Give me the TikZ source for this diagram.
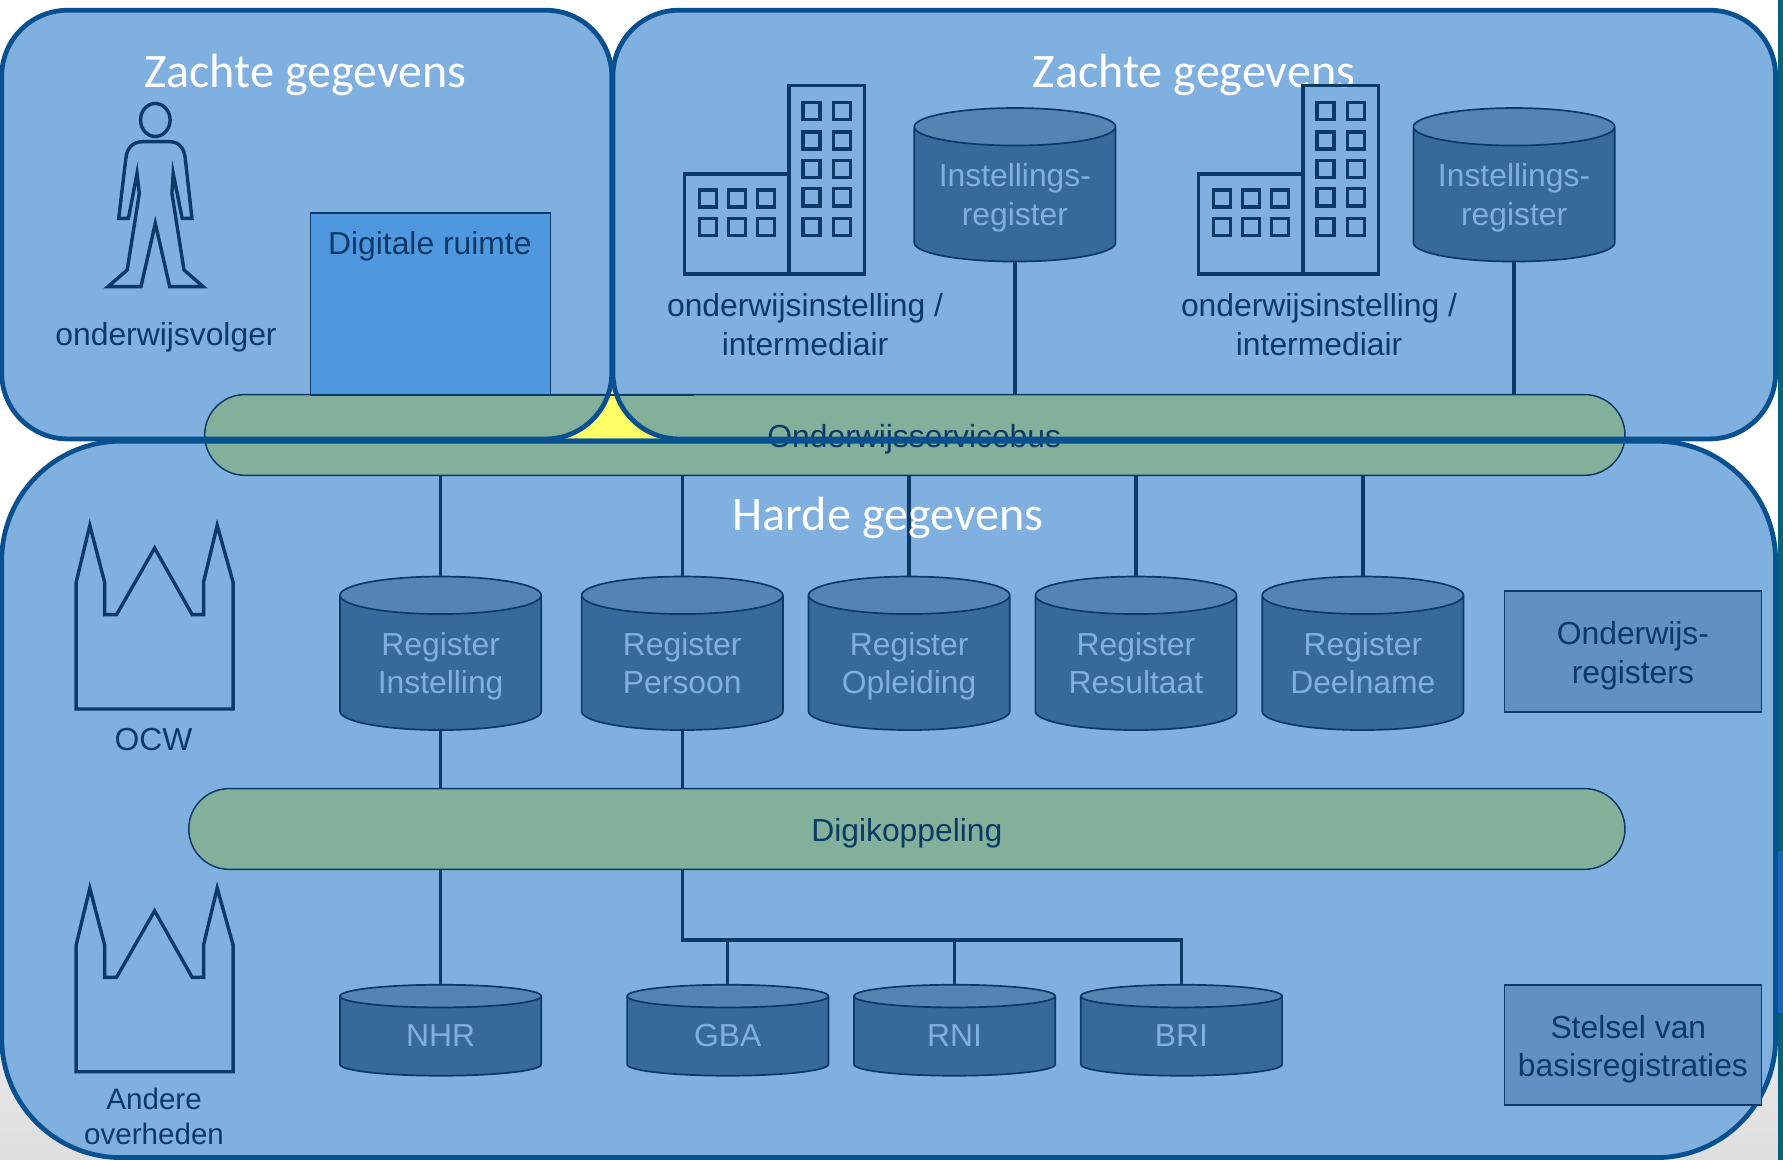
\documentclass[tikz,border=0pt]{standalone}
\usepackage{fontspec}
\setmainfont{Liberation Sans}
\newfontfamily\titlefont{Carlito}
\usetikzlibrary{shapes.geometric,shapes.misc}
\definecolor{panel}{HTML}{7FB0E0}
\definecolor{border}{HTML}{08508F}
\definecolor{busfill}{HTML}{82B09A}
\definecolor{dbbody}{HTML}{366A9A}
\definecolor{dbtop}{HTML}{5385B3}
\definecolor{ink}{HTML}{0B3A66}
\definecolor{boxfill}{HTML}{5F92C2}
\definecolor{spacefill}{HTML}{4F98DF}
\definecolor{signyellow}{HTML}{FFFF66}
\definecolor{stripteal}{HTML}{00647A}
\definecolor{stripblue}{HTML}{1269C0}
\newcommand{\twolines}[2]{\rule{0pt}{28pt}#1\\#2\rule[-8pt]{0pt}{8pt}}
\tikzset{
  panelfill/.style={fill=panel,draw=none},
  paneledge/.style={draw=border,line width=4.2pt},
  busbar/.style={rectangle,rounded corners=35.5pt,draw=ink,line width=1.3pt,fill=busfill,text=ink,
     font=\fontsize{28}{34}\selectfont,inner sep=0pt,minimum height=71pt},
  db/.style={cylinder,shape border rotate=90,draw=ink,line width=1.5pt,cylinder uses custom fill,
     cylinder body fill=dbbody,cylinder end fill=dbtop,text=panel,align=center,inner sep=0pt,
     anchor=shape center,text width=150pt,minimum width=177pt,font=\fontsize{28}{33.5}\selectfont},
  tall/.style={minimum height=135pt,aspect=0.22},
  flat/.style={minimum height=80pt,aspect=0.133},
  link/.style={draw=ink,line width=3pt},
  title/.style={text=white,font=\titlefont\fontsize{42.3}{48}\selectfont,inner sep=0pt},
  lab/.style={text=ink,align=center,inner sep=0pt,font=\fontsize{28}{34}\selectfont},
  smalllab/.style={text=ink,align=center,inner sep=0pt,font=\fontsize{26}{30.5}\selectfont},
  sidebox/.style={rectangle,draw=ink,line width=1.5pt,fill=boxfill,text=ink,align=center,inner sep=0pt,
     minimum width=226pt,minimum height=106pt,font=\fontsize{28}{34}\selectfont},
  icon/.style={draw=ink,line width=3pt,miter limit=8},
  win/.style={draw=ink,line width=3pt},
}
\begin{document}
\begin{tikzpicture}[x=1pt,y=-1pt]
\useasboundingbox (0,0) rectangle (1568,1020);
% background
\fill[white] (0,0) rectangle (1568,700);
\shade[top color=white,bottom color=black!13] (0,700) rectangle (1568,1020);
\fill[stripteal] (1563.5,0) rectangle (1568,1020);
\fill[stripblue] (1563.5,748) rectangle (1568,891);
% panels
\path[panelfill,rounded corners=105pt] (1.5,388) rectangle (1561.5,1018);
\path[panelfill,rounded corners=58pt] (1.5,9) rectangle (538,386);
\path[panelfill,rounded corners=58pt] (539,9) rectangle (1561.5,386);
% bars
\node[busbar,minimum width=1249pt] (osb) at (804.5,382.5) {};
\node[busbar,minimum width=1263pt] (digi) at (797.5,729) {\rule{0pt}{28pt}Digikoppeling};
% yellow wedge between the panels
\fill[signyellow] (478,347.5) rectangle (600,385);
\begin{scope}
 \clip[rounded corners=58pt] (1.5,9) rectangle (538,386);
 \fill[busfill] (470,347.5) rectangle (610,386);
\end{scope}
\begin{scope}
 \clip[rounded corners=58pt] (539,9) rectangle (1561.5,386);
 \fill[busfill] (470,347.5) rectangle (610,386);
\end{scope}
\draw[draw=ink,line width=1.3pt] (470,347.2) -- (610,347.2);
\node[text=ink,font=\fontsize{28}{34}\selectfont,inner sep=0pt] (osbtext) at (804,386) {Onderwijsservicebus};
% outlines
\draw[paneledge,rounded corners=105pt] (1.5,388) rectangle (1561.5,1018);
\draw[paneledge,rounded corners=58pt] (1.5,9) rectangle (538,386);
\draw[paneledge,rounded corners=58pt] (539,9) rectangle (1561.5,386);
% digital space
\node[rectangle,draw=ink,line width=1.5pt,fill=spacefill,minimum width=211pt,minimum height=160pt,inner sep=0pt] (space) at (378.5,267.5) {};
\node[lab] (spacetext) at (378,217) {Digitale ruimte};
% titles
\node[title] (t1) at (268.5,65.5) {Zachte gegevens};
% databases
\node[db,tall] (ir1) at (892.5,162.5) {\twolines{Instellings-}{register}};
\node[db,tall] (ir2) at (1331.5,162.5) {\twolines{Instellings-}{register}};
\node[db,tall] (r1) at (387.5,574.5) {\twolines{Register}{Instelling}};
\node[db,tall] (r2) at (600,574.5) {\twolines{Register}{Persoon}};
\node[db,tall] (r3) at (799.5,574.5) {\twolines{Register}{Opleiding}};
\node[db,tall] (r4) at (999,574.5) {\twolines{Register}{Resultaat}};
\node[db,tall] (r5) at (1198.5,574.5) {\twolines{Register}{Deelname}};
\node[db,flat] (nhr) at (387.5,906) {\rule{0pt}{24pt}NHR\rule[-6pt]{0pt}{6pt}};
\node[db,flat] (gba) at (640,906) {\rule{0pt}{24pt}GBA\rule[-6pt]{0pt}{6pt}};
\node[db,flat] (rni) at (839.5,906) {\rule{0pt}{24pt}RNI\rule[-6pt]{0pt}{6pt}};
\node[db,flat] (bri) at (1039,906) {\rule{0pt}{24pt}BRI\rule[-6pt]{0pt}{6pt}};
% connectors
\coordinate (b1) at (r1.north |- osb.south);
\coordinate (b2) at (r2.north |- osb.south);
\coordinate (b3) at (r3.north |- osb.south);
\coordinate (b4) at (r4.north |- osb.south);
\coordinate (b5) at (r5.north |- osb.south);
\draw[link] (ir1.south) -- (ir1.south |- osb.north);
\draw[link] (ir2.south) -- (ir2.south |- osb.north);
\draw[link] (b1) -- (r1.north);
\draw[link] (b2) -- (r2.north);
\draw[link] (b3) -- (r3.north);
\draw[link] (b4) -- (r4.north);
\draw[link] (b5) -- (r5.north);
\draw[link] (r1.south) -- (r1.south |- digi.north);
\draw[link] (r2.south) -- (r2.south |- digi.north);
\draw[link] (nhr.north) -- (nhr.north |- digi.south);
\coordinate (dj) at (600,826.5);
\draw[link] (dj |- digi.south) -- (dj) -- (dj -| bri.north) -- (bri.north);
\draw[link] (gba.north) -- (gba.north |- dj);
\draw[link] (rni.north) -- (rni.north |- dj);
\node[title] (t2) at (1050,65.5) {Zachte gegevens};
\node[title] (t3) at (781,455.5) {Harde gegevens};
% person
\draw[icon] (136.6,105.5) ellipse [x radius=13,y radius=14.5];
\draw[icon,line join=miter] (125.6,124.6) -- (149.2,124.6) .. controls (158,124.6) and (162,131) .. (162.9,139.2)
  -- (168.8,192) -- (160.2,192) -- (152.3,152.4) -- (151.2,170) -- (161.8,237.4) -- (178.6,252) -- (149.2,252) -- (136.6,196.4)
  -- (124,252) -- (95,252) -- (111.9,237.4) -- (122.5,170) -- (120.5,152.4) -- (113,192) -- (104.4,192) -- (110.7,139.2)
  .. controls (111.5,131) and (116,124.6) .. (125.6,124.6) -- cycle;
\node[lab] (student) at (146,297) {onderwijsvolger};
% buildings
\foreach \dx in {0,452}{
\begin{scope}[xshift=\dx pt]
 \draw[icon] (694,153) -- (602,153) -- (602,241) -- (694,241) -- cycle;
 \draw[icon] (694,75) rectangle (760,241);
 \foreach \wx in {706,733} \foreach \wy in {90,116,141,166,192} \draw[win] (\wx,\wy) rectangle +(15,15);
 \foreach \wx in {615,640.5,666} \foreach \wy in {167,192} \draw[win] (\wx,\wy) rectangle +(15,15);
\end{scope}}
\node[lab] (inst1) at (708,285.5) {onderwijsinstelling /\\intermediair};
\node[lab] (inst2) at (1160,285.5) {onderwijsinstelling /\\intermediair};
% churches
\foreach \dy in {0,319}{
\begin{scope}[yshift=-\dy pt]
 \draw[icon,line join=miter] (67,623.5) -- (67,512) -- (79,462) -- (92,512) -- (92,540.5) -- (102.5,540.5) -- (136,482) -- (169,540.5) -- (179,540.5) -- (179,512) -- (191,462) -- (205,512) -- (205,623.5) -- cycle;
\end{scope}}
\node[lab] (ocw) at (135,650) {OCW};
\node[smalllab] (andere) at (135.5,982) {Andere\\overheden};
% side boxes
\node[sidebox] (s1) at (1436,573) {\rule{0pt}{28pt}Onderwijs-\\registers};
\node[sidebox] (s2) at (1436,919) {\rule{0pt}{28pt}Stelsel van\kern8pt\\basisregistraties};
\end{tikzpicture}
\end{document}
